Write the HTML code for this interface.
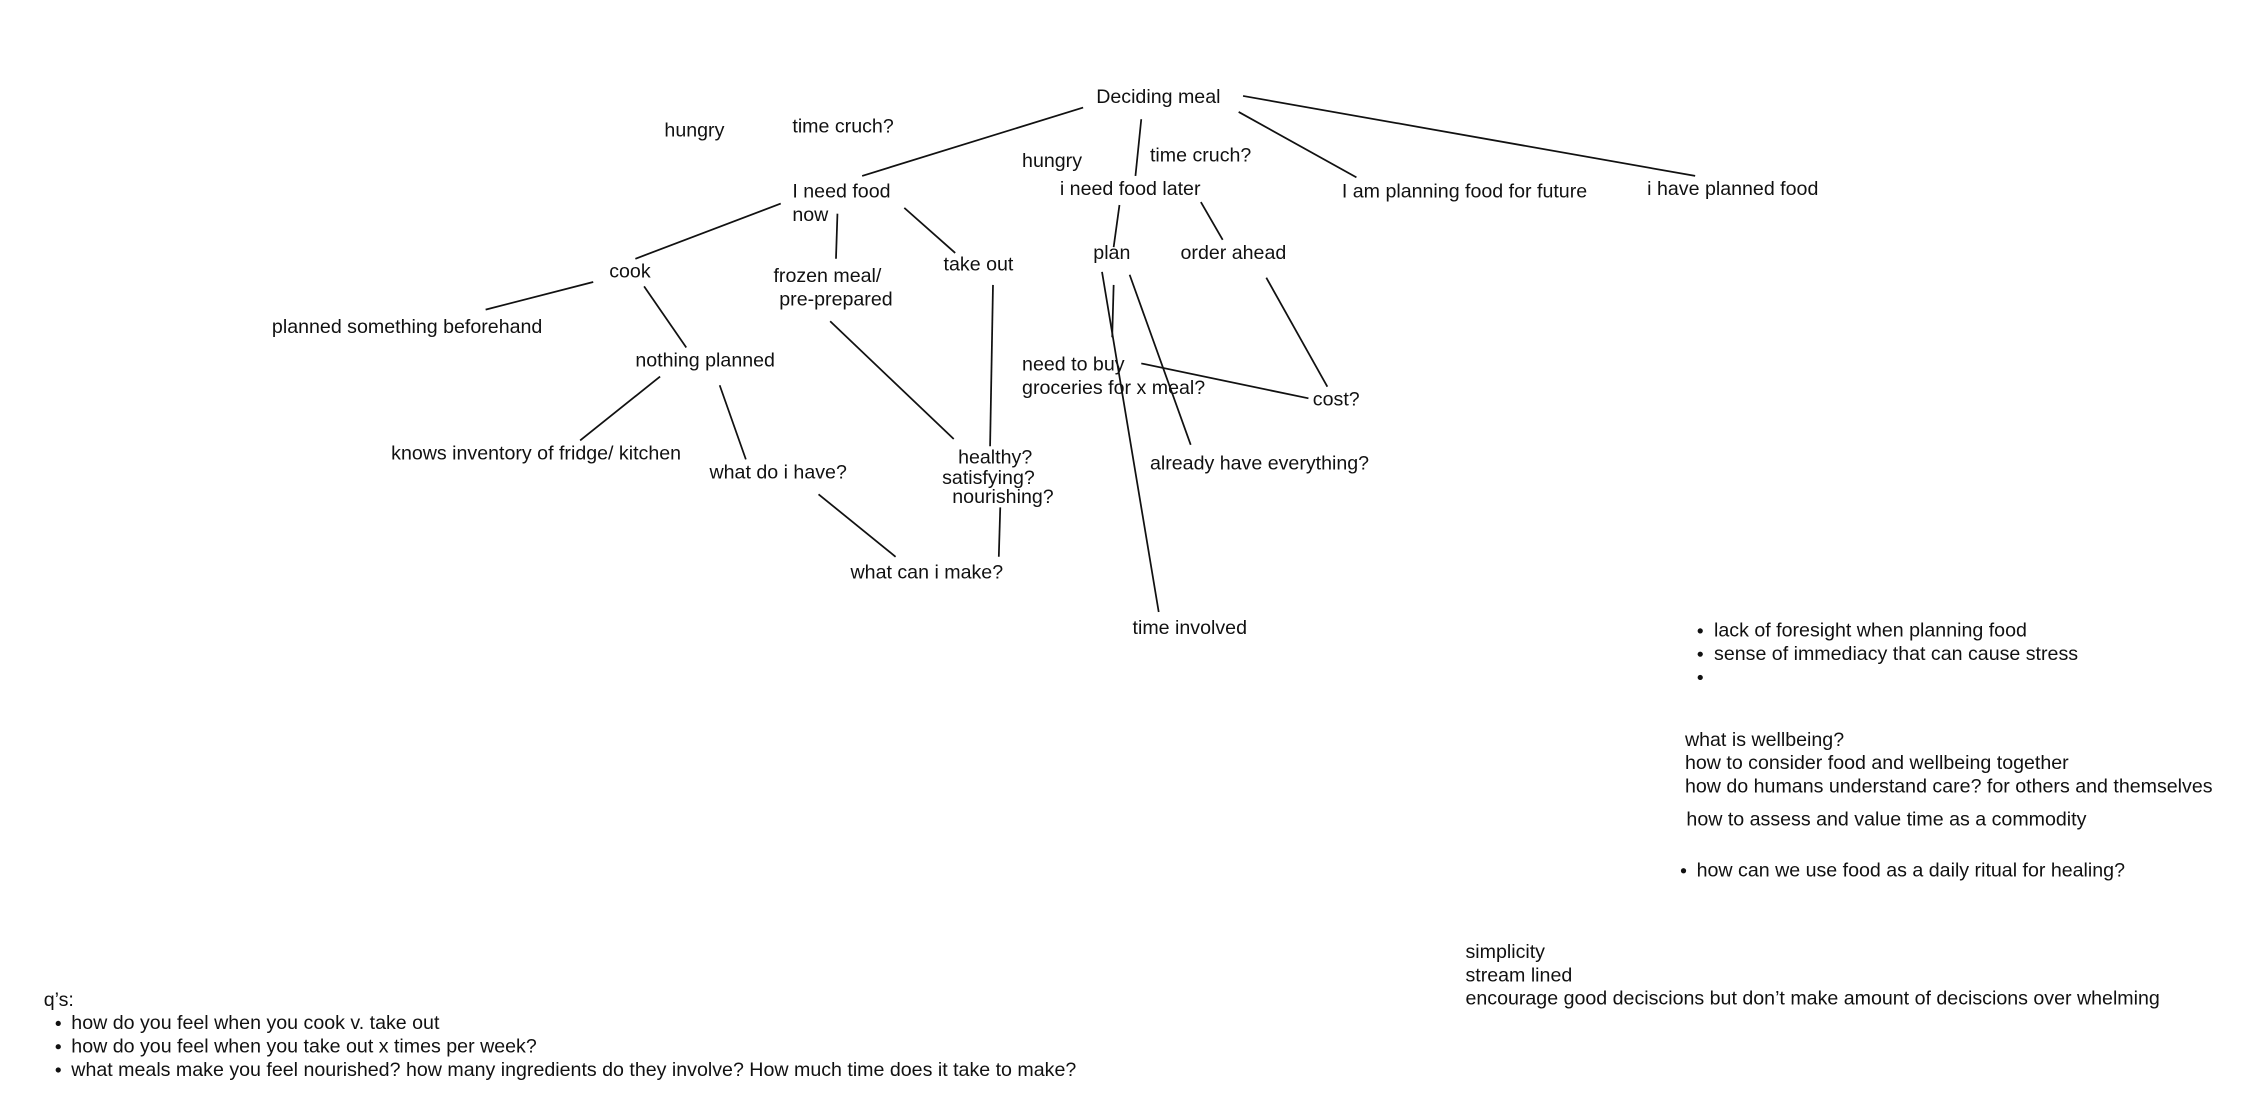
<!DOCTYPE html>
<html><head><meta charset="utf-8"><style>
html,body{margin:0;padding:0;background:#fff;}
svg{display:block;}
text{font-family:"Liberation Sans",sans-serif;font-size:13.5px;fill:#111;}
line{stroke:#111;stroke-width:1.2;}
circle{fill:#111;}
</style></head><body>
<svg width="2268" height="1106" viewBox="0 0 1560 760.8" xmlns="http://www.w3.org/2000/svg">
<g>
<line x1="745" y1="74" x2="593" y2="121"/>
<line x1="785" y1="82" x2="781" y2="121"/>
<line x1="852" y1="77" x2="933" y2="122"/>
<line x1="855" y1="66" x2="1166" y2="121"/>
<line x1="537" y1="140" x2="437" y2="178"/>
<line x1="576" y1="147" x2="575" y2="178"/>
<line x1="622" y1="143" x2="657" y2="174"/>
<line x1="408" y1="194" x2="334" y2="213"/>
<line x1="443" y1="197" x2="472" y2="239"/>
<line x1="454" y1="259" x2="399" y2="303"/>
<line x1="495" y1="265" x2="513" y2="316"/>
<line x1="571" y1="221" x2="656" y2="302"/>
<line x1="683" y1="196" x2="681" y2="307"/>
<line x1="563" y1="340" x2="616" y2="383"/>
<line x1="688" y1="349" x2="687" y2="383"/>
<line x1="770" y1="141" x2="766" y2="170"/>
<line x1="826" y1="139" x2="841" y2="165"/>
<line x1="758" y1="187" x2="797" y2="421"/>
<line x1="777" y1="189" x2="819" y2="306"/>
<line x1="766" y1="196" x2="765" y2="232"/>
<line x1="871" y1="191" x2="913" y2="266"/>
<line x1="785" y1="250" x2="900" y2="274"/>
</g>
<text x="457" y="94">hungry</text>
<text x="545" y="91">time cruch?</text>
<text x="754" y="71">Deciding meal</text>
<text x="703" y="115">hungry</text>
<text x="791" y="111">time cruch?</text>
<text x="729" y="134">i need food later</text>
<text x="923" y="136">I am planning food for future</text>
<text x="1133" y="134">i have planned food</text>
<text x="545" y="136">I need food</text>
<text x="545" y="152">now</text>
<text x="419" y="191">cook</text>
<text x="532" y="194">frozen meal/</text>
<text x="536" y="210">pre-prepared</text>
<text x="649" y="186">take out</text>
<text x="752" y="178">plan</text>
<text x="812" y="178">order ahead</text>
<text x="187" y="229">planned something beforehand</text>
<text x="437" y="252">nothing planned</text>
<text x="703" y="255">need to buy</text>
<text x="703" y="271">groceries for x meal?</text>
<text x="903" y="279">cost?</text>
<text x="269" y="316">knows inventory of fridge/ kitchen</text>
<text x="488" y="329">what do i have?</text>
<text x="659" y="319">healthy?</text>
<text x="648" y="333">satisfying?</text>
<text x="655" y="346">nourishing?</text>
<text x="791" y="323">already have everything?</text>
<text x="585" y="398">what can i make?</text>
<text x="779" y="436">time involved</text>

<circle cx="1169.5" cy="434" r="1.8"/><text x="1179" y="438">lack of foresight when planning food</text>
<circle cx="1169.5" cy="450" r="1.8"/><text x="1179" y="454">sense of immediacy that can cause stress</text>
<circle cx="1169.5" cy="466" r="1.8"/>
<text x="1159" y="513">what is wellbeing?</text>
<text x="1159" y="529">how to consider food and wellbeing together</text>
<text x="1159" y="545">how do humans understand care? for others and themselves</text>
<text x="1160" y="568">how to assess and value time as a commodity</text>
<circle cx="1158" cy="599" r="1.8"/><text x="1167" y="603">how can we use food as a daily ritual for healing?</text>

<text x="1008" y="659">simplicity</text>
<text x="1008" y="675">stream lined</text>
<text x="1008" y="691">encourage good deciscions but don’t make amount of deciscions over whelming</text>

<text x="30" y="692">q’s:</text>
<circle cx="40" cy="704" r="1.8"/><text x="49" y="708">how do you feel when you cook v. take out</text>
<circle cx="40" cy="720" r="1.8"/><text x="49" y="724">how do you feel when you take out x times per week?</text>
<circle cx="40" cy="736" r="1.8"/><text x="49" y="740">what meals make you feel nourished? how many ingredients do they involve? How much time does it take to make?</text>
</svg>
</body></html>
